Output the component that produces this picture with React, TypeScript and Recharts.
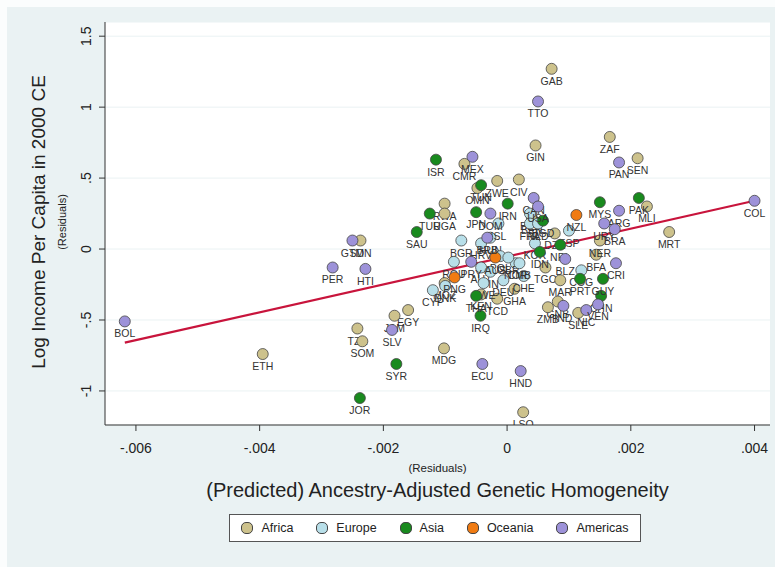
import React from 'react';
import { ScatterChart, Scatter, XAxis, YAxis, CartesianGrid } from 'recharts';

type Pt = { x: number; y: number; name: string };

const africa: Pt[] = [
  { x: 0.00072, y: 1.27, name: 'GAB' }, { x: 0.00166, y: 0.79, name: 'ZAF' },
  { x: 0.00211, y: 0.64, name: 'SEN' }, { x: 0.00046, y: 0.73, name: 'GIN' },
  { x: -0.00069, y: 0.6, name: 'CMR' }, { x: -0.00016, y: 0.48, name: 'ZWE' },
  { x: 0.00019, y: 0.49, name: 'CIV' }, { x: -0.00048, y: 0.43, name: 'OMN' },
  { x: -0.00101, y: 0.32, name: 'RWA' }, { x: -0.00101, y: 0.25, name: 'UGA' },
  { x: -0.0016, y: -0.43, name: 'EGY' }, { x: -0.00182, y: -0.47, name: 'JAM' },
  { x: -0.00242, y: -0.56, name: 'TZA' }, { x: -0.00234, y: -0.65, name: 'SOM' },
  { x: -0.00395, y: -0.74, name: 'ETH' }, { x: -0.00102, y: -0.7, name: 'MDG' },
  { x: 0.00026, y: -1.15, name: 'LSO' }, { x: 0.00262, y: 0.12, name: 'MRT' },
  { x: 0.00226, y: 0.3, name: 'MLI' }, { x: 0.00062, y: -0.13, name: 'TGO' },
  { x: 0.00086, y: -0.22, name: 'MAR' }, { x: 0.00082, y: -0.37, name: 'GNB' },
  { x: 0.00066, y: -0.41, name: 'ZMB' }, { x: 0.00115, y: -0.45, name: 'SLE' },
  { x: -0.00016, y: -0.35, name: 'TCD' }, { x: 0.00144, y: -0.04, name: 'BFA' },
  { x: 0.0015, y: 0.06, name: 'NER' }, { x: 0.0004, y: 0.22, name: 'BEN' },
  { x: -0.00042, y: -0.32, name: 'KEN' }, { x: -0.00237, y: 0.06, name: 'SDN' },
  { x: 0.00077, y: 0.11, name: 'DZA' }, { x: -0.00101, y: -0.24, name: 'MOZ' },
  { x: 0.00012, y: -0.28, name: 'GHA' },
];

const europe: Pt[] = [
  { x: -0.00074, y: 0.06, name: 'BGR' }, { x: -0.00042, y: 0.04, name: 'HRV' },
  { x: -0.00027, y: 0.08, name: 'HUN' }, { x: -0.00014, y: 0.18, name: 'ISL' },
  { x: -0.00011, y: -0.05, name: 'POL' }, { x: -0.00042, y: -0.13, name: 'AUT' },
  { x: -0.00027, y: -0.16, name: 'FIN' }, { x: -0.00038, y: -0.24, name: 'SWE' },
  { x: -0.0012, y: -0.29, name: 'CYP' }, { x: -0.001, y: -0.26, name: 'DNK' },
  { x: -0.00006, y: -0.22, name: 'DEU' }, { x: 0.00027, y: -0.19, name: 'CHE' },
  { x: 0.001, y: 0.13, name: 'ESP' }, { x: 0.00014, y: -0.1, name: 'NOR' },
  { x: 0.00045, y: 0.04, name: 'KOR' }, { x: 0.00037, y: 0.25, name: 'BEL' },
  { x: 0.00037, y: 0.18, name: 'FRA' }, { x: 0.0012, y: -0.15, name: 'COG' },
  { x: 0.0005, y: 0.18, name: 'NLD' }, { x: 0.00002, y: -0.06, name: 'GBR' },
  { x: 0.0002, y: -0.1, name: 'CMB' }, { x: -0.00086, y: -0.09, name: 'ROU' },
];

const asia: Pt[] = [
  { x: -0.00115, y: 0.63, name: 'ISR' }, { x: -0.00146, y: 0.12, name: 'SAU' },
  { x: -0.00125, y: 0.25, name: 'TUR' }, { x: -0.00179, y: -0.81, name: 'SYR' },
  { x: -0.00238, y: -1.05, name: 'JOR' }, { x: -0.00043, y: -0.47, name: 'IRQ' },
  { x: 0.0015, y: 0.33, name: 'MYS' }, { x: 0.00213, y: 0.36, name: 'PAK' },
  { x: -0.0005, y: -0.33, name: 'THA' }, { x: 0.00118, y: -0.21, name: 'PRT' },
  { x: 0.00152, y: -0.33, name: 'CHN' }, { x: 0.00155, y: -0.21, name: 'GUY' },
  { x: 0.00053, y: -0.02, name: 'IDN' }, { x: -0.00042, y: 0.45, name: 'TUN' },
  { x: -0.0005, y: 0.26, name: 'JPN' }, { x: 0.00001, y: 0.32, name: 'IRN' },
  { x: 0.00058, y: 0.2, name: 'BGD' }, { x: 0.00086, y: 0.03, name: 'NPL' },
];

const oceania: Pt[] = [
  { x: 0.00112, y: 0.24, name: 'NZL' }, { x: -0.00085, y: -0.2, name: 'PNG' },
  { x: -0.00019, y: -0.06, name: 'AUS' },
];

const americas: Pt[] = [
  { x: -0.00056, y: 0.65, name: 'MEX' }, { x: 0.0005, y: 1.04, name: 'TTO' },
  { x: 0.00181, y: 0.61, name: 'PAN' }, { x: 0.004, y: 0.34, name: 'COL' },
  { x: -0.00618, y: -0.51, name: 'BOL' }, { x: -0.00282, y: -0.13, name: 'PER' },
  { x: -0.0025, y: 0.06, name: 'GTM' }, { x: -0.00229, y: -0.14, name: 'HTI' },
  { x: 0.00022, y: -0.86, name: 'HND' }, { x: -0.0004, y: -0.81, name: 'ECU' },
  { x: -0.00186, y: -0.57, name: 'SLV' }, { x: -0.00027, y: 0.25, name: 'DOM' },
  { x: -0.00058, y: -0.09, name: 'PRY' }, { x: 0.00181, y: 0.27, name: 'ARG' },
  { x: 0.00157, y: 0.18, name: 'URY' }, { x: 0.00174, y: 0.14, name: 'BRA' },
  { x: 0.00094, y: -0.07, name: 'BLZ' }, { x: 0.00176, y: -0.1, name: 'CRI' },
  { x: 0.00091, y: -0.4, name: 'IND' }, { x: 0.00128, y: -0.43, name: 'NIC' },
  { x: 0.00147, y: -0.39, name: 'VEN' }, { x: 0.00043, y: 0.36, name: 'CAN' },
  { x: 0.0005, y: 0.3, name: 'USA' }, { x: -0.00032, y: 0.08, name: 'BRB' },
];

const fit = [
  { x: -0.00618, y: -0.66 },
  { x: 0.004, y: 0.34 },
];

const xTicks = [-0.006, -0.004, -0.002, 0, 0.002, 0.004];
const yTicks = [-1, -0.5, 0, 0.5, 1, 1.5];

const groups = [
  { name: 'Africa', data: africa, color: '#cdc28c' },
  { name: 'Europe', data: europe, color: '#b8dfe9' },
  { name: 'Asia', data: asia, color: '#198a1e' },
  { name: 'Oceania', data: oceania, color: '#f07b12' },
  { name: 'Americas', data: americas, color: '#9d92d9' },
];

const fmt = (v: number) => {
  if (v === 0) return '0';
  const s = String(Math.round(v * 1000) / 1000);
  return s.replace(/^(-?)0\./, '$1.');
};

function makeDot(color: string) {
  return (props: any) => {
    const { cx, cy, payload } = props;
    return (
      <g>
        <circle cx={cx} cy={cy} r={5.5} fill={color} stroke="#444" strokeWidth={0.8} />
        <text x={cx} y={cy + 16} textAnchor="middle" fontSize={10.5} fill="#333" fontFamily="Liberation Sans, Arial">
          {payload.name}
        </text>
      </g>
    );
  };
}

const YTick = (props: any) => {
  const { x, y, payload } = props;
  return (
    <text x={x - 6} y={y} transform={`rotate(-90 ${x - 6} ${y})`} textAnchor="middle" fontSize={14} fill="#222" fontFamily="Liberation Sans, Arial">
      {fmt(payload.value)}
    </text>
  );
};

const XTick = (props: any) => {
  const { x, y, payload } = props;
  return (
    <text x={x} y={y + 20} textAnchor="middle" fontSize={14} fill="#222" fontFamily="Liberation Sans, Arial">
      {fmt(payload.value)}
    </text>
  );
};

export default function App() {
  const font = 'Liberation Sans, Arial, sans-serif';
  return (
    <div style={{ position: 'absolute', left: 0, top: 0, width: 775, height: 567, background: '#fbfdfd', fontFamily: font }}>
      <div style={{ position: 'absolute', left: 7, top: 7, right: 0, bottom: 0, background: '#eaf2f3' }} />
      <div style={{ position: 'absolute', left: 0, top: 0 }}>
        <ScatterChart width={775} height={567} margin={{ top: 22, right: 5, left: 0, bottom: 0 }}>
          <CartesianGrid vertical={false} horizontal stroke="#eaf2f3" fill="#ffffff" />
          <XAxis type="number" dataKey="x" domain={[-0.0065, 0.00425]} ticks={xTicks} tickFormatter={fmt}
            height={142} stroke="#333" tick={<XTick />} tickSize={6} allowDataOverflow />
          <YAxis type="number" dataKey="y" domain={[-1.24, 1.6]} ticks={yTicks} width={105}
            stroke="#333" tick={<YTick />} tickSize={6} allowDataOverflow />
          <Scatter data={fit} line={{ stroke: '#c8143c', strokeWidth: 2.2 }} shape={() => null} isAnimationActive={false} />
          {groups.map((g) => (
            <Scatter key={g.name} data={g.data} shape={makeDot(g.color)} isAnimationActive={false} />
          ))}
        </ScatterChart>
      </div>
      <div style={{ position: 'absolute', left: 105, width: 665, top: 462, textAlign: 'center', fontSize: 11.5, color: '#222' }}>(Residuals)</div>
      <div style={{ position: 'absolute', left: 105, width: 665, top: 479, textAlign: 'center', fontSize: 20, color: '#222' }}>
        (Predicted) Ancestry-Adjusted Genetic Homogeneity
      </div>
      <div style={{ position: 'absolute', left: 39, top: 222, width: 0, height: 0 }}>
        <div style={{ position: 'absolute', transform: 'translate(-50%,-50%) rotate(-90deg)', whiteSpace: 'nowrap', fontSize: 19, color: '#222' }}>
          Log Income Per Capita in 2000 CE
        </div>
      </div>
      <div style={{ position: 'absolute', left: 62, top: 222, width: 0, height: 0 }}>
        <div style={{ position: 'absolute', transform: 'translate(-50%,-50%) rotate(-90deg)', whiteSpace: 'nowrap', fontSize: 11, color: '#222' }}>
          (Residuals)
        </div>
      </div>
      <div style={{ position: 'absolute', left: 229, top: 514, width: 412, height: 28, background: '#fff', border: '1px solid #555',
        display: 'flex', alignItems: 'center', justifyContent: 'space-around', fontSize: 12.5, color: '#222', boxSizing: 'border-box' }}>
        {groups.map((g) => (
          <span key={g.name} style={{ display: 'flex', alignItems: 'center' }}>
            <span style={{ width: 10, height: 10, borderRadius: 5, background: g.color, border: '1px solid #444', marginRight: 8 }} />
            {g.name}
          </span>
        ))}
      </div>
    </div>
  );
}
